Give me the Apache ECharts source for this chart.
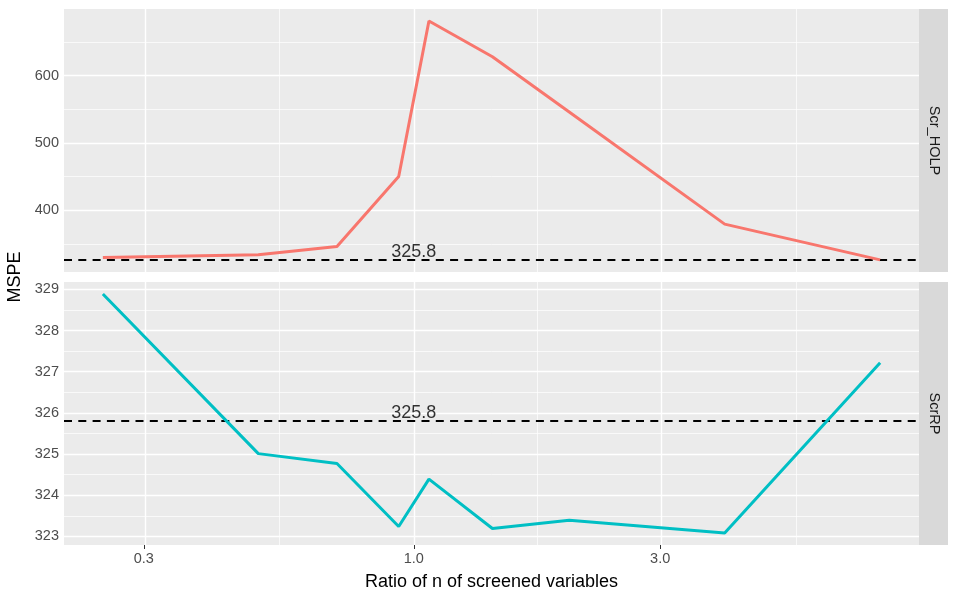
<!DOCTYPE html>
<html><head><meta charset="utf-8">
<script src="https://cdn.jsdelivr.net/npm/echarts@6/dist/echarts.min.js"></script>
<style>html,body{margin:0;padding:0;background:#fff}#c{width:957px;height:598px}</style>
</head><body><div id="c"></div>
<script>
const ratio = [0.25, 0.5, 0.71, 0.935, 1.07, 1.42, 2, 4, 8];
const scrHOLP = [329.6, 333.6, 346, 450, 681.3, 628, 546, 379.2, 326];
const scrRP = [328.89, 325.01, 324.77, 323.24, 324.39, 323.19, 323.39, 323.08, 327.22];
const baseline = 325.8;
const baselineLabel = '325.8';
const panelNames = ['Scr_HOLP', 'ScrRP'];
const xTicks = [0.3, 1.0, 3.0];
const xTickLabels = ['0.3', '1.0', '3.0'];
const xMinor = [0.5477, 1.732, 5.477];
const yTicksTop = [400, 500, 600];
const yMinorTop = [350, 450, 550, 650];
const yTicksBottom = [323, 324, 325, 326, 327, 328, 329];
const yMinorBottom = [323.5, 324.5, 325.5, 326.5, 327.5, 328.5];
const colors = ['#F8766D', '#00BFC4'];

const L = Math.log10;
function expand(lo, hi) { const r = hi - lo; return [lo - 0.05 * r, hi + 0.05 * r]; }
const xr = expand(L(Math.min(...ratio)), L(Math.max(...ratio)));
const topR = expand(Math.min(...scrHOLP, baseline), Math.max(...scrHOLP, baseline));
const botR = expand(Math.min(...scrRP, baseline), Math.max(...scrRP, baseline));

const font = 'Liberation Sans, Arial, sans-serif';
const gridDefs = [
  {left: 64, right: 38, top: 9, height: 263},
  {left: 64, right: 38, top: 282, height: 263}
];

function gridLines(idx, yMaj, yMin) {
  const d = [];
  xMinor.forEach(v => d.push({xAxis: L(v), lineStyle: {width: 0.7}}));
  yMin.forEach(v => d.push({yAxis: v, lineStyle: {width: 0.7}}));
  xTicks.forEach(v => d.push({xAxis: L(v), lineStyle: {width: 1.4}}));
  yMaj.forEach(v => d.push({yAxis: v, lineStyle: {width: 1.4}}));
  return {
    type: 'line', xAxisIndex: idx, yAxisIndex: idx, data: [], z: 1, silent: true,
    markLine: {silent: true, symbol: ['none', 'none'], label: {show: false}, animation: false,
      lineStyle: {color: '#ffffff', type: 'solid'}, data: d, z: 1}
  };
}
function dataLine(idx, vals, color) {
  return {type: 'line', xAxisIndex: idx, yAxisIndex: idx, z: 3, showSymbol: false, symbol: 'none',
    lineStyle: {color: color, width: 3}, itemStyle: {color: color},
    data: ratio.map((r, i) => [L(r), vals[i]])};
}
function baseLine(idx) {
  return {type: 'line', xAxisIndex: idx, yAxisIndex: idx, z: 2, silent: true, data: [],
    markLine: {silent: true, symbol: ['none', 'none'], label: {show: false}, animation: false, z: 2,
      lineStyle: {color: '#000000', type: [8, 6.3], width: 1.8}, data: [{yAxis: baseline}]}};
}
function baseText(idx) {
  return {type: 'scatter', xAxisIndex: idx, yAxisIndex: idx, z: 4, symbolSize: 0, silent: true,
    data: [[0, baseline]],
    label: {show: true, position: 'top', distance: -1, formatter: baselineLabel,
      color: '#000000', fontSize: 18, fontFamily: font}};
}
function xAxis(idx, showLabels) {
  return {type: 'value', gridIndex: idx, min: xr[0], max: xr[1],
    axisLine: {show: false}, splitLine: {show: false},
    axisTick: {show: showLabels, length: 4, lineStyle: {color: '#333333', width: 1}, customValues: xTicks.map(L)},
    axisLabel: {show: showLabels, customValues: xTicks.map(L), color: '#4D4D4D', fontSize: 14.5, fontFamily: font, margin: 6,
      formatter: v => { let bi = 0; xTicks.forEach((t, i) => { if (Math.abs(L(t) - v) < Math.abs(L(xTicks[bi]) - v)) bi = i; }); return xTickLabels[bi]; }},
    name: showLabels ? 'Ratio of n of screened variables' : '', nameLocation: 'middle', nameGap: 28,
    nameTextStyle: {color: '#000000', fontSize: 18, fontFamily: font}};
}
function yAxis(idx, r, ticks) {
  return {type: 'value', gridIndex: idx, min: r[0], max: r[1],
    axisLine: {show: false}, splitLine: {show: false},
    axisTick: {show: true, length: 4, lineStyle: {color: '#333333', width: 1}, customValues: ticks},
    axisLabel: {customValues: ticks, color: '#4D4D4D', fontSize: 14.5, fontFamily: font, margin: 5,
      formatter: v => String(Math.round(v))}};
}

const chart = echarts.init(document.getElementById('c'), null, {renderer: 'canvas'});
chart.setOption({
  animation: false,
  backgroundColor: '#ffffff',
  grid: gridDefs.map(g => Object.assign({show: true, backgroundColor: '#EBEBEB', borderWidth: 0}, g)),
  xAxis: [xAxis(0, false), xAxis(1, true)],
  yAxis: [yAxis(0, topR, yTicksTop), yAxis(1, botR, yTicksBottom)],
  series: [
    gridLines(0, yTicksTop, yMinorTop), gridLines(1, yTicksBottom, yMinorBottom),
    baseLine(0), baseLine(1),
    dataLine(0, scrHOLP, colors[0]), dataLine(1, scrRP, colors[1]),
    baseText(0), baseText(1)
  ],
  graphic: [
    {type: 'rect', left: 919, top: 9, shape: {width: 29, height: 263}, style: {fill: '#D9D9D9'}, silent: true},
    {type: 'rect', left: 919, top: 282, shape: {width: 29, height: 263}, style: {fill: '#D9D9D9'}, silent: true},
    {type: 'text', x: 933.5, y: 140.5, rotation: -Math.PI / 2, silent: true,
      style: {text: panelNames[0], fill: '#1A1A1A', fontSize: 14.5, fontFamily: font, align: 'center', verticalAlign: 'middle'}},
    {type: 'text', x: 933.5, y: 413.5, rotation: -Math.PI / 2, silent: true,
      style: {text: panelNames[1], fill: '#1A1A1A', fontSize: 14.5, fontFamily: font, align: 'center', verticalAlign: 'middle'}},
    {type: 'text', x: 15, y: 277, rotation: Math.PI / 2, silent: true,
      style: {text: 'MSPE', fill: '#000000', fontSize: 18, fontFamily: font, align: 'center', verticalAlign: 'middle'}}
  ]
});
</script></body></html>
